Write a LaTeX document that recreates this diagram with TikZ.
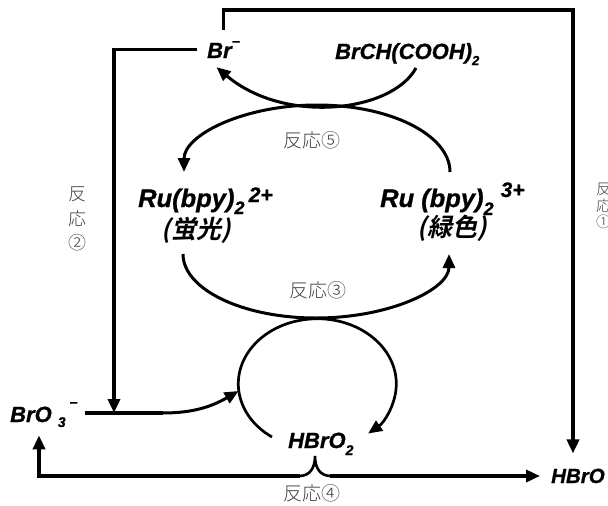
\documentclass[tikz,border=0pt]{standalone}
\usepackage{fontspec}
\usepackage{tikz}
\usetikzlibrary{arrows.meta}
\setmainfont{Liberation Sans}[BoldItalicFeatures={FakeBold=0.9}]
\newfontfamily\jpgothic{Noto Sans CJK JP Bold}[FakeSlant=0.22]
\newfontfamily\jplight{Noto Sans CJK JP Light}
% raised / lowered index: #1 shift, #2 size, #3 text
\newcommand{\chraise}[3]{\raisebox{#1pt}{\fontsize{#2}{#2}\selectfont #3}}

\begin{document}
\begin{tikzpicture}[x=1pt,y=-1pt,>={Triangle[length=14pt,width=12pt]},
    chem/.style={inner sep=0pt,anchor=base west,font=\fontsize{22}{25}\selectfont\bfseries\itshape},
    ru/.style={chem,font=\fontsize{25.5}{28}\selectfont\bfseries\itshape},
    jpchem/.style={inner sep=0pt,font=\fontsize{25}{28}\selectfont\jpgothic},
    rxn/.style={inner sep=0pt,text=black!75,font=\fontsize{19}{24}\selectfont\jplight},
    conn/.style={line width=3.6pt},
    cycle/.style={line width=3pt},
    brace/.style={line width=2.6pt}]
    \useasboundingbox (0,0) rectangle (608,506);
    % ------------------------------------------------------------------
    %                             NODES
    % ------------------------------------------------------------------
    % top row
    \node[chem]   (br)    at (207,58)  {Br\chraise{11.5}{14}{−}};
    \node[chem]   (brch)  at (335,59)  {BrCH(COOH)\chraise{-6}{13}{2}};
    % ruthenium complexes
    \node[ru]     (ru2)   at (138,207) {Ru(bpy)\chraise{-7}{18}{2}\,\chraise{5}{21}{2+}};
    \node[jpchem] (ru2c)  at (196,230) {(蛍光)};
    \node[ru]     (ru3)   at (380,207) {Ru (bpy)\chraise{-8}{18}{2}\;\chraise{10}{21}{3+}};
    \node[jpchem] (ru3c)  at (452,228) {(緑色)};
    % bottom row
    \node[chem]   (bro3)  at (10,422)  {BrO \chraise{-5}{14}{3}\,\chraise{14.5}{14}{−}};
    \node[chem]   (hbro2) at (288,448) {HBrO\chraise{-7}{14}{2}};
    \node[chem,font=\fontsize{20.5}{24}\selectfont\bfseries\itshape] (hbro) at (551,483) {HBrO};

    % reaction labels
    \node[rxn] (r5) at (312,140) {反応⑤};
    \node[rxn] (r3) at (318,290) {反応③};
    \node[rxn] (r4) at (312,493) {反応④};
    \node[rxn,align=center,font=\fontsize{18}{24.5}\selectfont\jplight] (r2) at (77,219) {反\\応\\②};
    \node[rxn,align=left,anchor=west,font=\fontsize{15}{16.5}\selectfont\jplight] (r1) at (596,206) {反\\応\\①};

    % ------------------------------------------------------------------
    %                             EDGES
    % ------------------------------------------------------------------
    \coordinate (ne)     at (573,10);
    \coordinate (join)   at (114,413);
    \coordinate (bendin) at (238.6,391);
    \coordinate (sw)     at (39,476);
    \coordinate (fork)   at (315,476);

    % Br- to HBrO (reaction 1)
    \draw[conn,->,shorten >=15pt] ([yshift=11pt]br.north) |- (ne) -- (ne |- hbro.north);
    % Br- to BrO3- (reaction 2)
    \draw[conn,->] ([xshift=-10pt]br.west) -| (join);
    % BrO3- into the HBrO2 cycle
    \draw[conn] ([xshift=7pt]bro3.east |- join) -- ++(78,0) coordinate (bendout);
    \draw[cycle,->] (bendout) to[out=0,in=-150] (bendin);
    % BrCH(COOH)2 to Br- (reaction 5)
    \draw[cycle,->] (416,68) .. controls (392,112) and (285,125) .. ([shift={(-7pt,-9pt)}]br.south);
    % Ru(bpy)3+ to Ru(bpy)2+ (reaction 5)
    \draw[cycle,->] (450,172) arc[start angle=0,end angle=-180,x radius=133,y radius=67];
    % Ru(bpy)2+ to Ru(bpy)3+ (reaction 3)
    \draw[cycle,->] (183,254) arc[start angle=180,end angle=0,x radius=133,y radius=64];
    % autocatalytic HBrO2 cycle
    \draw[cycle,line width=2.7pt,->] (272,437) arc[start angle=125,end angle=410,x radius=79,y radius=65];
    % HBrO2 split (reaction 4)
    \draw[brace] ([xshift=-16pt]fork) .. controls +(11,0) and +(0,12) .. ([yshift=20pt]fork)
                 .. controls +(0,12) and +(-11,0) .. ([xshift=16pt]fork);
    \draw[conn,->,shorten >=8pt] ([xshift=-15pt]fork) -- (sw) -- (sw |- bro3.south);
    \draw[conn,->,shorten >=11pt] ([xshift=15pt]fork) -- (hbro.west |- fork);
\end{tikzpicture}
\end{document}
